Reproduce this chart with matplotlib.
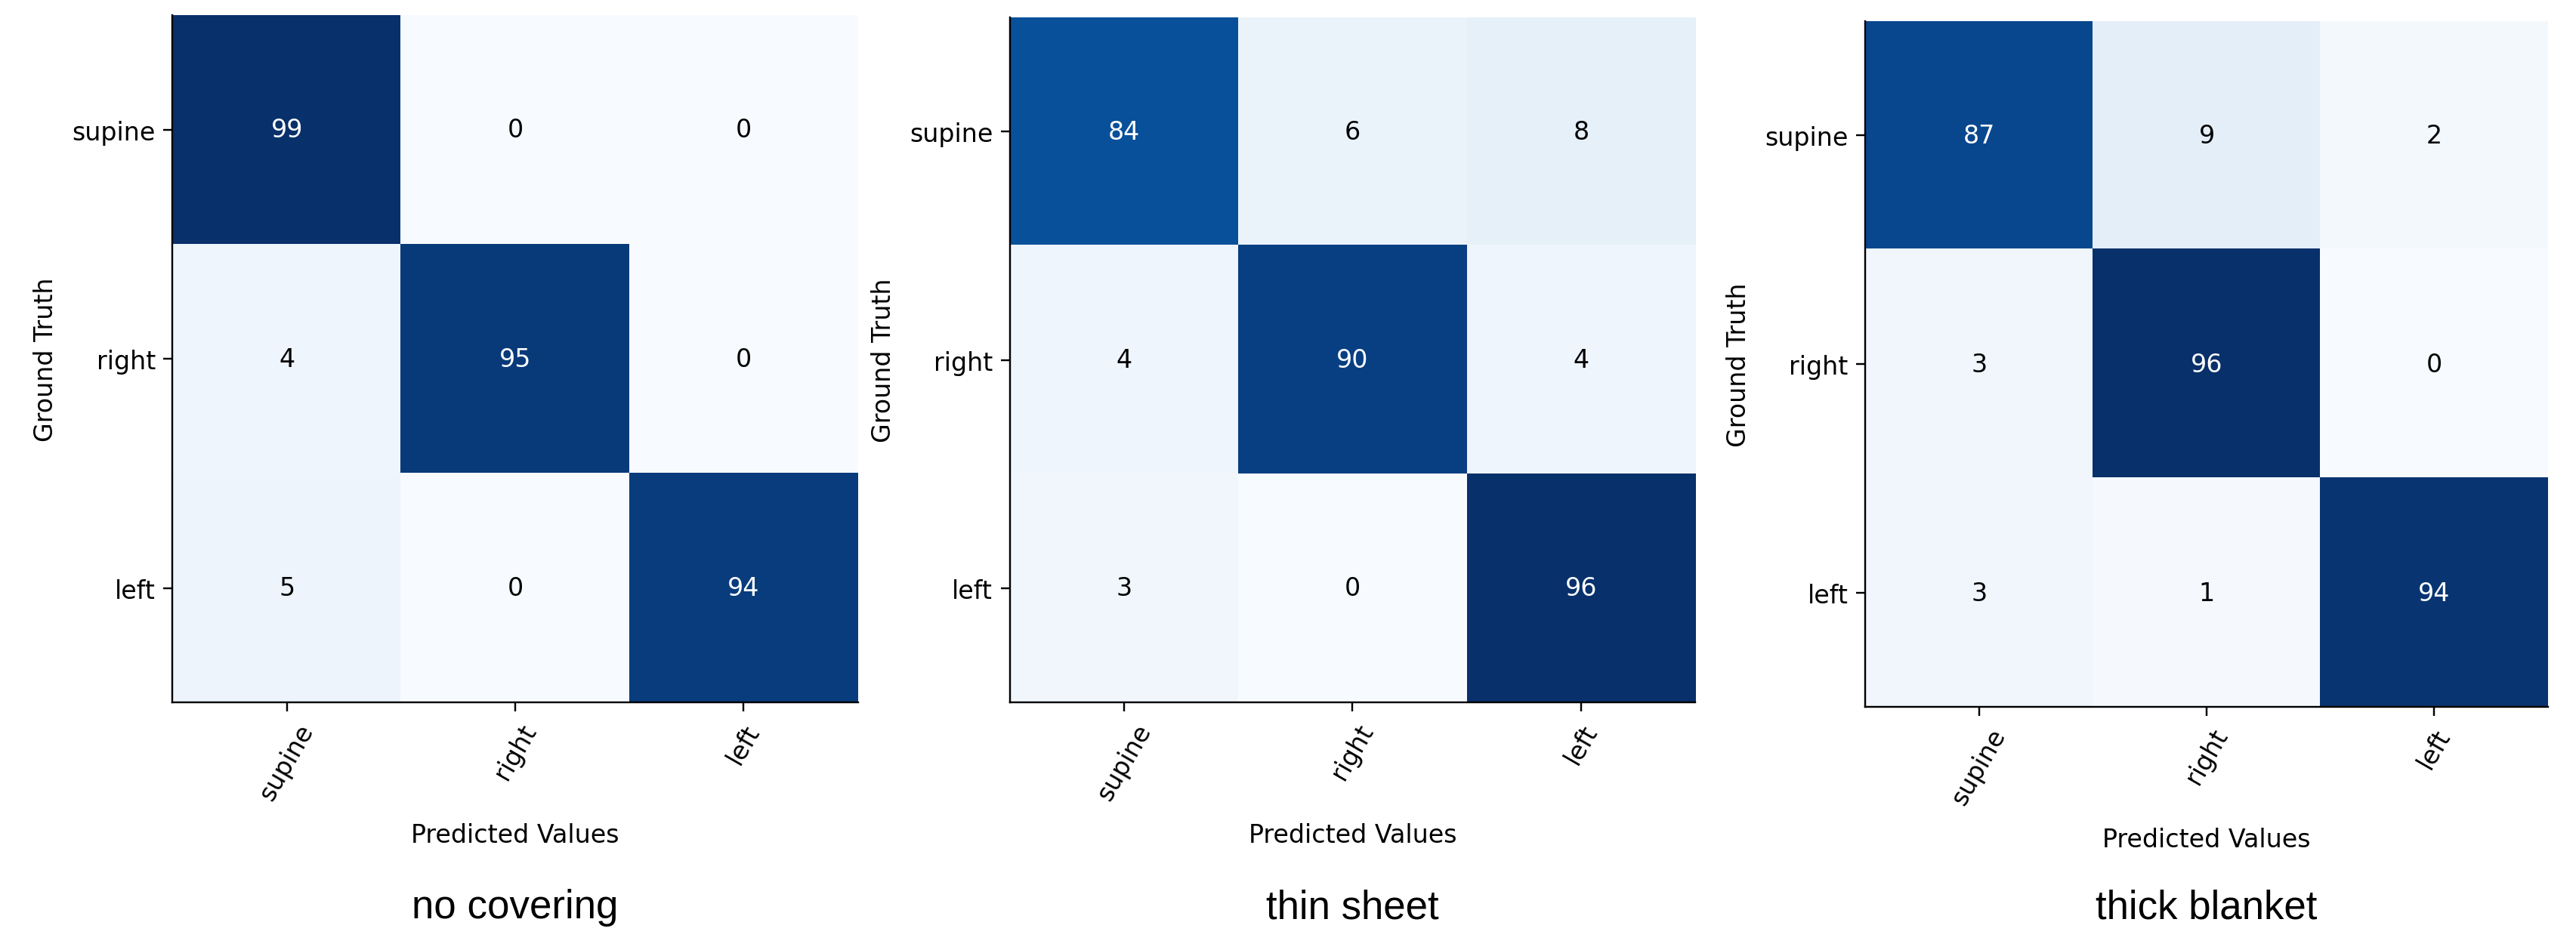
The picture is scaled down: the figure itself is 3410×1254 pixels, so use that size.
import matplotlib
matplotlib.use("Agg")
import matplotlib.pyplot as plt
import numpy as np

classes = ["supine", "right", "left"]
titles = ["no covering", "thin sheet", "thick blanket"]
cm_no_covering = [[99, 0, 0],
                  [4, 95, 0],
                  [5, 0, 94]]
cm_thin_sheet = [[84, 6, 8],
                 [4, 90, 4],
                 [3, 0, 96]]
cm_thick_blanket = [[87, 9, 2],
                    [3, 96, 0],
                    [3, 1, 94]]
matrices = [cm_no_covering, cm_thin_sheet, cm_thick_blanket]

fig = plt.figure(figsize=(15.68, 5.77), dpi=217.5)
boxes = [(0.067, 0.258, 0.266, 0.725),
         (0.392, 0.258, 0.266, 0.723),
         (0.724, 0.253, 0.265, 0.724)]

fs = 11
for box, cm, title in zip(boxes, matrices, titles):
    ax = fig.add_axes(box)
    m = np.array(cm)
    ax.imshow(m, cmap="Blues", aspect="auto", interpolation="nearest")
    thresh = (m.max() + m.min()) / 2.0
    for i in range(m.shape[0]):
        for j in range(m.shape[1]):
            ax.text(j, i, str(m[i, j]), ha="center", va="center", fontsize=fs,
                    color="white" if m[i, j] > thresh else "black")
    ax.set_xticks(range(len(classes)))
    ax.set_xticklabels(classes, rotation=60, fontsize=fs)
    ax.set_yticks(range(len(classes)))
    ax.set_yticklabels(classes, fontsize=fs)
    ax.tick_params(length=4)
    ax.set_xlabel("Predicted Values", fontsize=fs, labelpad=8)
    ax.set_ylabel("Ground Truth", fontsize=fs, labelpad=6)
    ax.spines["top"].set_visible(False)
    ax.spines["right"].set_visible(False)
    cx = box[0] + box[2] / 2
    fig.text(cx, 0.042, title, ha="center", va="center", fontsize=17.5,
             family="Liberation Sans")

fig.savefig("out.png", dpi=217.5)
